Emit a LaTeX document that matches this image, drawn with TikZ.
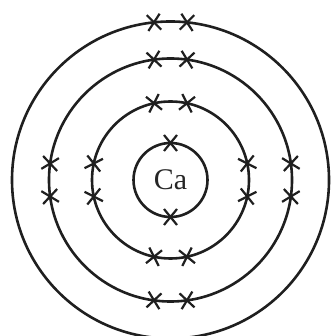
\documentclass[tikz,border=0pt]{standalone}
\usepackage{fontspec}
\setmainfont{Liberation Serif}
\usetikzlibrary{calc}
\begin{document}
\begin{tikzpicture}[x=1pt,y=1pt,
  shell/.style={circle,draw=black!88,line width=2.6pt,inner sep=0pt},
  elec/.pic={\draw[line width=2.2pt,black!88] (-6.5,-8)--(6.5,8) (-6.5,8)--(6.5,-8);}]
\useasboundingbox (0,0) rectangle (331,336);
\coordinate (c) at (170.5,156);
\node[shell,minimum size=74pt] (s1) at (c) {};
\node[shell,minimum size=157pt] (s2) at (c) {};
\node[shell,minimum size=243pt] (s3) at (c) {};
\node[shell,minimum size=317pt] (s4) at (c) {};
\node[font=\fontsize{30}{32}\selectfont,text=black!85] (ca) at (c) {Ca};
% shell 1
\foreach \a in {90,270}
  \pic[rotate=\a-90] at ($(c)+(\a:37)$) {elec};
% shells 2 and 3: four pairs
\foreach \r in {78.5,121.5}{
  \pgfmathsetmacro{\d}{asin(16.5/\r)}
  \foreach \b in {0,90,180,270}{
    \pic[rotate=\b+\d-90] at ($(c)+({\b+\d}:\r)$) {elec};
    \pic[rotate=\b-\d-90] at ($(c)+({\b-\d}:\r)$) {elec};
  }
}
% shell 4: top pair
\pgfmathsetmacro{\e}{asin(16.5/158.5)}
\pic[rotate=\e] at ($(c)+({90+\e}:158.5)$) {elec};
\pic[rotate=-\e] at ($(c)+({90-\e}:158.5)$) {elec};
\end{tikzpicture}
\end{document}
